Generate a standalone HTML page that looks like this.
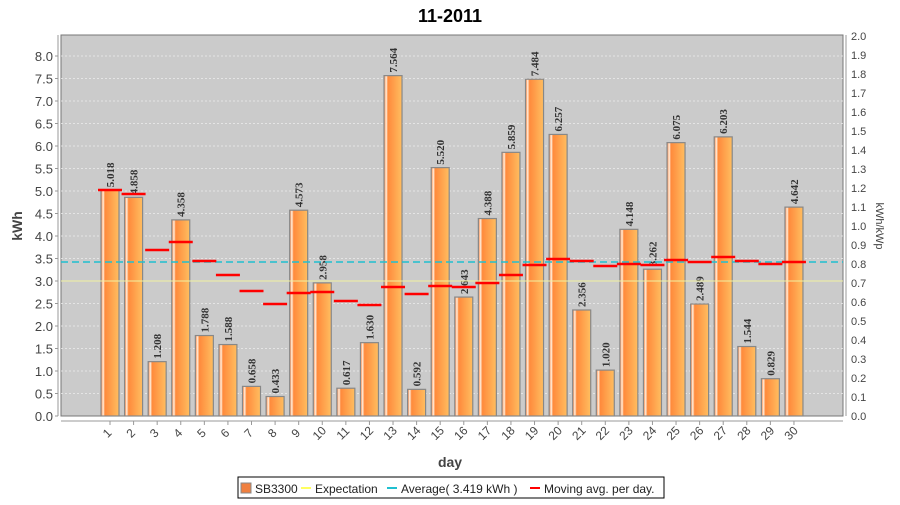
<!DOCTYPE html>
<html><head><meta charset="utf-8"><style>
html,body{margin:0;padding:0;background:#fff;}
svg text{font-family:"Liberation Sans",sans-serif;}
svg text.v{font-family:"Liberation Serif",serif;}
</style></head><body>
<svg id="s" width="900" height="500" xmlns="http://www.w3.org/2000/svg">
<defs>
<linearGradient id="g" x1="0" x2="1" y1="0" y2="0">
<stop offset="0" stop-color="#ff7a30"/><stop offset="0.12" stop-color="#fff0e0"/><stop offset="0.22" stop-color="#ff8a3c"/><stop offset="1" stop-color="#ffbe60"/>
</linearGradient>
</defs>
<text x="450" y="22" text-anchor="middle" font-size="18" font-weight="bold">11-2011</text>
<rect x="61" y="35" width="782" height="381" fill="#cbcbcb" stroke="#777" stroke-width="1"/>
<g id="grid"></g>
<g id="bars"></g>
<line x1="61" x2="843" y1="281" y2="281" stroke="#f0f0a0" stroke-width="1"/>
<line x1="61" x2="843" y1="262" y2="262" stroke="#20c0d0" stroke-width="1.5" stroke-dasharray="7,4"/>
<g id="ma"></g>
<line x1="58" x2="58" y1="35" y2="416" stroke="#999"/>
<line x1="61" x2="843" y1="421" y2="421" stroke="#999"/>
<line x1="846" x2="846" y1="35" y2="416" stroke="#999"/>
<g id="ax" font-size="13" fill="#444"></g>
<text x="22" y="226" font-size="14" font-weight="bold" fill="#444" transform="rotate(-90 22 226)" text-anchor="middle">kWh</text>
<text x="876" y="226" font-size="11" fill="#444" transform="rotate(90 876 226)" text-anchor="middle">kWh/kWp</text>
<text x="450" y="467" font-size="14" font-weight="bold" fill="#444" text-anchor="middle">day</text>
<rect x="238" y="477" width="426" height="21" fill="#fff" stroke="#000"/>
<rect x="241" y="483" width="10" height="10" fill="#f08040" stroke="#888"/>
<text x="255" y="493" font-size="12" fill="#222">SB3300</text>
<line x1="301" x2="311" y1="488" y2="488" stroke="#ffff60" stroke-width="2"/>
<text x="315" y="493" font-size="12" fill="#222">Expectation</text>
<line x1="387" x2="397" y1="488" y2="488" stroke="#20c0d0" stroke-width="2"/>
<text x="401" y="493" font-size="12" fill="#222">Average( 3.419 kWh )</text>
<line x1="530" x2="540" y1="488" y2="488" stroke="#f00" stroke-width="2"/>
<text x="544" y="493" font-size="12" fill="#222">Moving avg. per day.</text>
</svg>
<script>
var v=[5.018,4.858,1.208,4.358,1.788,1.588,0.658,0.433,4.573,2.958,0.617,1.630,7.564,0.592,5.520,2.643,4.388,5.859,7.484,6.257,2.356,1.020,4.148,3.262,6.075,2.489,6.203,1.544,0.829,4.642];
var ma=[190,194,250,242,261,275,291,304,293,292,301,305,287,294,286,287,283,275,265,259,261,266,264,265,260,262,257,261,264,262];
var N="http://www.w3.org/2000/svg";
function el(p,t,a,tx){var e=document.createElementNS(N,t);for(var k in a)e.setAttribute(k,a[k]);if(tx!=null)e.textContent=tx;document.getElementById(p).appendChild(e);}
for(var i=0;i<=16;i++){var y=416-i*22.5;
 if(i>0)el("grid","line",{x1:61,x2:843,y1:y,y2:y,stroke:"#eee","stroke-dasharray":"2,2","stroke-width":0.8});
 el("ax","text",{x:53,y:y+5,"text-anchor":"end"},(i*0.5).toFixed(1));
 el("ax","line",{x1:55,x2:58,y1:y,y2:y,stroke:"#999"});}
for(var i=0;i<=20;i++){var y=416-i*19;
 el("ax","text",{x:851,y:y+4,"font-size":11},(i*0.1).toFixed(1));}
for(var i=0;i<30;i++){var c=110+i*23.585,h=v[i]*45,y=416-h;
 el("bars","rect",{x:c-9,y:y,width:18,height:h,fill:"url(#g)",stroke:"#888","stroke-width":1.2});
 el("bars","text",{"class":"v",x:c+4,y:y-3,"font-size":11,"font-weight":"bold",fill:"#333",transform:"rotate(-90 "+(c+4)+" "+(y-3)+")"},v[i].toFixed(3));
 el("ma","line",{x1:c-12,x2:c+12,y1:ma[i],y2:ma[i],stroke:"#f00","stroke-width":2.5});
 el("ax","line",{x1:c,x2:c,y1:421,y2:425,stroke:"#999"});
 el("ax","text",{x:c,y:436,"font-size":12,"text-anchor":"middle",transform:"rotate(-45 "+c+" 436)"},String(i+1));}
</script>
</body></html>
